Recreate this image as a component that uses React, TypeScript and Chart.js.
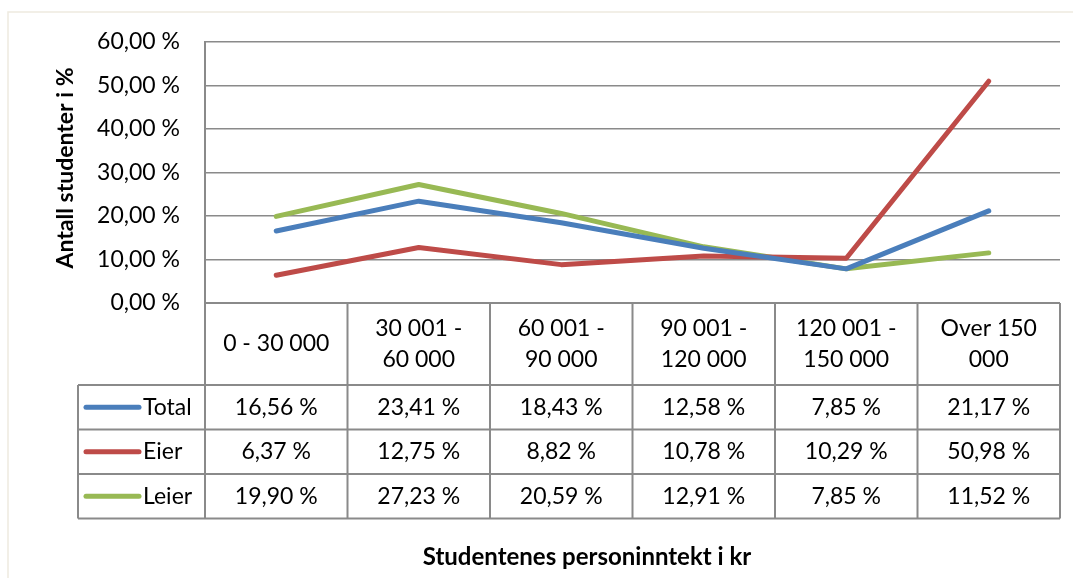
import React, { useEffect, useRef } from "react";
import { Chart, registerables } from "chart.js";

Chart.register(...registerables);

const categoryLines: string[][] = [
  ["0 - 30 000"],
  ["30 001 -", "60 000"],
  ["60 001 -", "90 000"],
  ["90 001 -", "120 000"],
  ["120 001 -", "150 000"],
  ["Over 150", "000"],
];
const categories = categoryLines.map((l) => l.join(" "));

const seriesNames = ["Total", "Eier", "Leier"];
const totalValues = [16.56, 23.41, 18.43, 12.58, 7.85, 21.17];
const eierValues = [6.37, 12.75, 8.82, 10.78, 10.29, 50.98];
const leierValues = [19.9, 27.23, 20.59, 12.91, 7.85, 11.52];
const seriesColors = ["#4A7EBB", "#BE4B48", "#98B954"];

const yTitle = "Antall studenter i %";
const xTitle = "Studentenes personinntekt i kr";

const FONT = "Lato, 'Open Sans', sans-serif";
const GRID = "#8a8a8a";

const fmt = (v: number) => v.toFixed(2).replace(".", ",") + " %";

const tablePlugin = {
  id: "tablePlugin",
  beforeDraw(chart: any) {
    const ctx = chart.ctx;
    ctx.save();
    ctx.strokeStyle = "#EEEAE0";
    ctx.lineWidth = 1.5;
    ctx.strokeRect(8, 12, 1100, 600);
    ctx.restore();
  },
  afterDraw(chart: any) {
    const ctx = chart.ctx;
    const xs = chart.scales.x;
    const area = chart.chartArea;
    const n = categories.length;
    const colW = (area.right - area.left) / n;
    const top = area.bottom;
    const headerBottom = 385;
    const rowBounds = [385, 429.5, 474, 518.5];
    const tableLeft = 78;
    const seriesData = [totalValues, eierValues, leierValues];

    ctx.save();
    ctx.strokeStyle = GRID;
    ctx.lineWidth = 2;
    ctx.beginPath();
    ctx.moveTo(area.left, top);
    ctx.lineTo(area.right, top);
    for (const y of rowBounds) {
      ctx.moveTo(tableLeft, y);
      ctx.lineTo(area.right, y);
    }
    for (let i = 0; i <= n; i++) {
      const x = area.left + i * colW;
      ctx.moveTo(x, i === 0 ? area.top : top);
      ctx.lineTo(x, rowBounds[rowBounds.length - 1]);
    }
    ctx.moveTo(tableLeft, rowBounds[0]);
    ctx.lineTo(tableLeft, rowBounds[rowBounds.length - 1]);
    ctx.stroke();

    ctx.fillStyle = "#000";
    ctx.font = `23px ${FONT}`;
    ctx.textAlign = "center";
    ctx.textBaseline = "middle";
    for (let i = 0; i < n; i++) {
      const cx = xs.getPixelForValue(i);
      const lines = categoryLines[i];
      const lh = 31;
      const cy = (top + headerBottom) / 2;
      lines.forEach((t, k) => {
        ctx.fillText(t, cx, cy + (k - (lines.length - 1) / 2) * lh);
      });
    }
    for (let r = 0; r < seriesNames.length; r++) {
      const cy = (rowBounds[r] + rowBounds[r + 1]) / 2;
      ctx.textAlign = "center";
      for (let i = 0; i < n; i++) {
        ctx.fillText(fmt(seriesData[r][i]), xs.getPixelForValue(i), cy);
      }
      ctx.strokeStyle = seriesColors[r];
      ctx.lineWidth = 5;
      ctx.lineCap = "round";
      ctx.beginPath();
      ctx.moveTo(86, cy);
      ctx.lineTo(139, cy);
      ctx.stroke();
      ctx.textAlign = "left";
      ctx.fillText(seriesNames[r], 143, cy);
    }

    ctx.textAlign = "center";
    ctx.font = `bold 24px ${FONT}`;
    ctx.fillText(xTitle, 587, 557);
    ctx.font = `bold 23px ${FONT}`;
    ctx.translate(66, 168);
    ctx.rotate(-Math.PI / 2);
    ctx.fillText(yTitle, 0, 0);
    ctx.restore();
  },
};

export default function App() {
  const ref = useRef<HTMLCanvasElement>(null);
  useEffect(() => {
    if (!ref.current) return;
    const mk = (label: string, data: number[], color: string) => ({
      label,
      data,
      borderColor: color,
      backgroundColor: color,
      borderWidth: 5,
      pointRadius: 0,
      tension: 0,
      borderCapStyle: "round" as const,
      borderJoinStyle: "round" as const,
    });
    const chart = new Chart(ref.current, {
      type: "line",
      data: {
        labels: categories,
        datasets: [
          mk(seriesNames[0], totalValues, seriesColors[0]),
          mk(seriesNames[1], eierValues, seriesColors[1]),
          mk(seriesNames[2], leierValues, seriesColors[2]),
        ],
      },
      options: {
        responsive: false,
        animation: false,
        devicePixelRatio: 1,
        layout: { padding: { left: 0, right: 13, top: 42, bottom: 275 } },
        plugins: { legend: { display: false }, tooltip: { enabled: false } },
        scales: {
          x: { type: "category", display: false, offset: true },
          y: {
            min: 0,
            max: 60,
            afterFit: (s: any) => {
              s.width = 205;
            },
            ticks: {
              stepSize: 10,
              padding: 25,
              color: "#000",
              font: { family: FONT, size: 23 },
              callback: (v: any) => fmt(Number(v)),
            },
            grid: { color: GRID, lineWidth: 1.5, drawTicks: false },
            border: { display: true, color: GRID, width: 2 },
          },
        },
      },
      plugins: [tablePlugin],
    });
    return () => chart.destroy();
  }, []);
  return (
    <div style={{ position: "absolute", left: 0, top: 0, width: 1073, height: 578, background: "#fff" }}>
      <canvas ref={ref} width={1073} height={578} />
    </div>
  );
}
